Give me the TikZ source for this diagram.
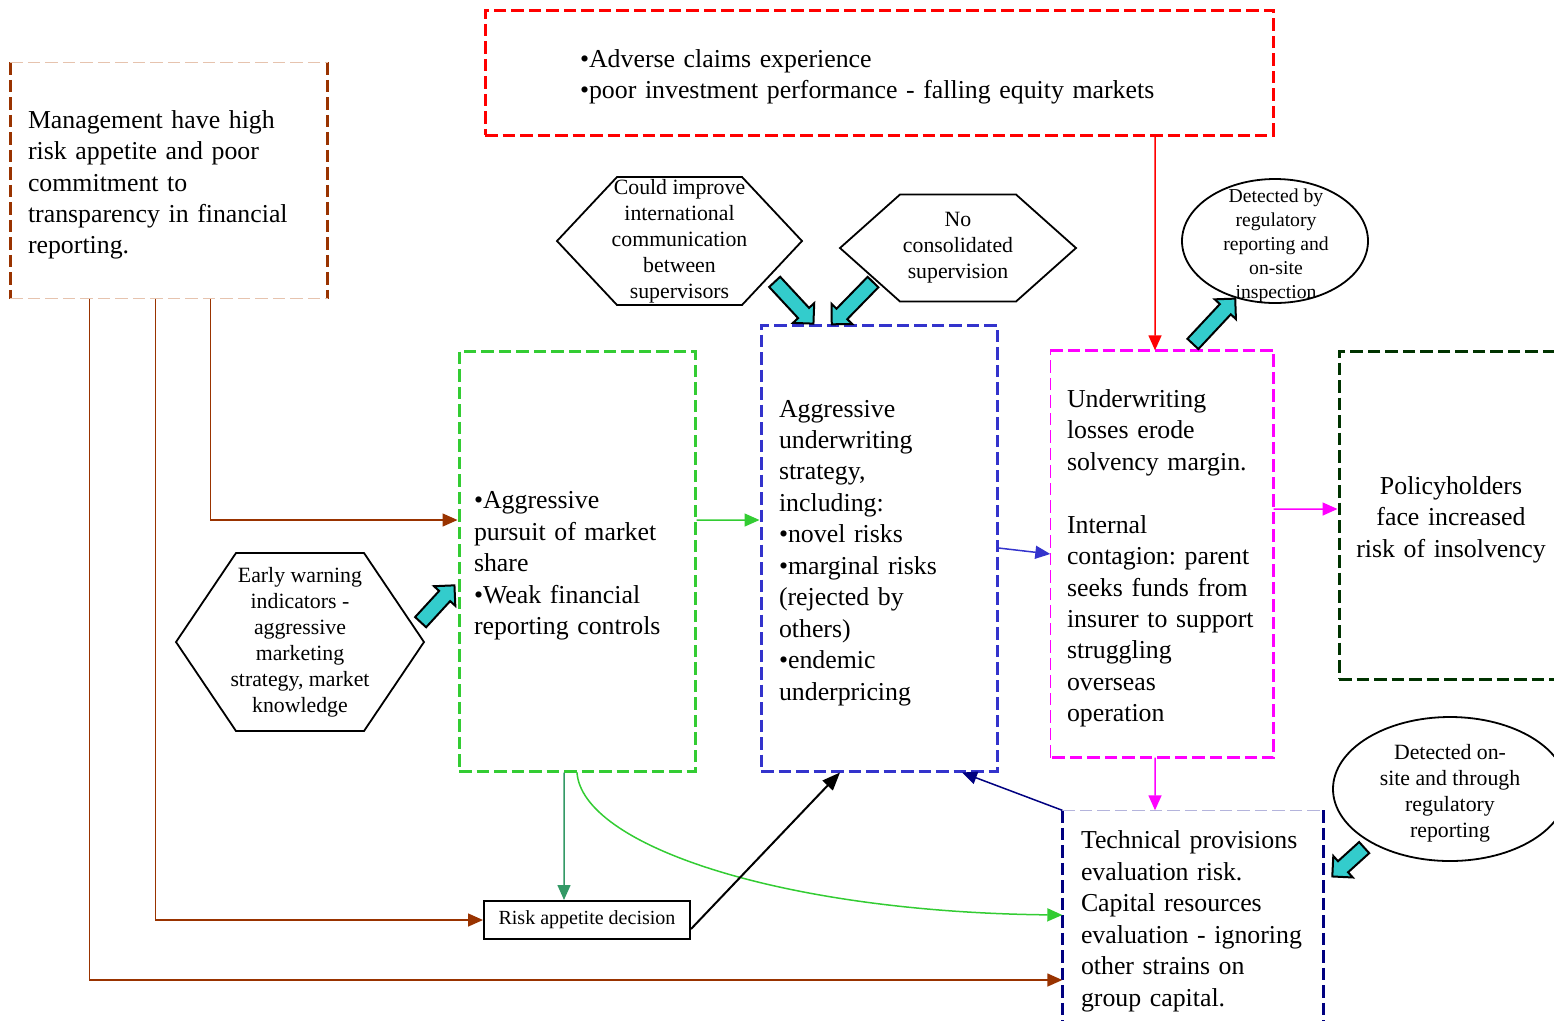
\documentclass[tikz,border=0pt]{standalone}
\usepackage{fontspec}
\setmainfont{Liberation Serif}
\usetikzlibrary{arrows.meta,shapes.geometric,shapes.arrows}

\definecolor{redline}{HTML}{FF0000}
\definecolor{brownline}{HTML}{993300}
\definecolor{lightbrown}{HTML}{E6C3AE}
\definecolor{greenline}{HTML}{33CC33}
\definecolor{blueline}{HTML}{3333CC}
\definecolor{pinkline}{HTML}{FF00FF}
\definecolor{darkgreen}{HTML}{003300}
\definecolor{navyline}{HTML}{000080}
\definecolor{lavender}{HTML}{B4B4DC}
\definecolor{seagreen}{HTML}{339966}
\definecolor{tealfill}{HTML}{33CCCC}

\frenchspacing
\hyphenpenalty=10000
\exhyphenpenalty=10000

\tikzset{
  mainfont/.style={font=\fontsize{7.35}{8.95}\selectfont},
  smallfont/.style={font=\fontsize{6.2}{7.4}\selectfont},
  tinyfont/.style={font=\fontsize{5.6}{6.8}\selectfont},
  dashbox/.style={draw=#1, line width=0.3mm, dash pattern=on 1.25mm off 0.5mm},
  thinside/.style={draw=#1, line width=0.12mm, dash pattern=on 1.25mm off 0.5mm},
  textbox/.style={rectangle, mainfont, align=left, inner ysep=0pt,
    execute at begin node={\rule{0pt}{7.6pt}}},
  hexnode/.style={smallfont, align=center, inner sep=0pt},
  hexline/.style={line width=0.18mm},
  oval/.style={ellipse, draw, line width=0.18mm, inner sep=0pt},
  link/.style={line width=0.15mm, -{Triangle[length=1.5mm,width=1.3mm]}},
  blockarrow/.style={single arrow, draw, fill=tealfill, line width=0.2mm,
    minimum height=#1, inner sep=0.65mm, single arrow head extend=0.7mm},
}

% hexagon round a centre: centre, half width, half height
\newcommand{\hexframe}[3]{%
  \draw[hexline] ([xshift=-#2]#1) -- ([xshift=-#2+6mm,yshift=#3]#1)
    -- ([xshift=#2-6mm,yshift=#3]#1) -- ([xshift=#2]#1)
    -- ([xshift=#2-6mm,yshift=-#3]#1) -- ([xshift=-#2+6mm,yshift=-#3]#1) -- cycle;}

\begin{document}
\begin{tikzpicture}[x=0.1mm, y=-0.1mm]
  \useasboundingbox (0,0) rectangle (1554,1020);
  \clip (0,0) rectangle (1554,1020);

  % Define boxes
  \node[textbox, dashbox=redline, minimum width=78.8mm, minimum height=12.5mm,
    text width=59.8mm, inner xsep=9.5mm] (Rd) at (879,72.5)
    {•Adverse claims experience\\•poor investment performance - falling equity markets};
  \node[textbox, minimum width=31.6mm, minimum height=23.5mm,
    text width=28.2mm, inner xsep=1.7mm] (M) at (169,180.5)
    {Management have high\\risk appetite and poor\\commitment to\\transparency in financial\\reporting.};
  \node[textbox, dashbox=greenline, minimum height=42mm,
    text width=20.6mm, inner xsep=1.5mm] (G) at (577,561)
    {•Aggressive\\pursuit of market\\share\\•Weak financial\\reporting controls};
  \node[textbox, dashbox=blueline, minimum height=44.6mm,
    text width=20mm, inner xsep=1.8mm] (B) at (879,548)
    {Aggressive\\underwriting\\strategy,\\including:\\•novel risks\\•marginal risks\\(rejected by\\others)\\•endemic\\underpricing};
  \node[textbox, minimum height=40.6mm,
    text width=19mm, inner xsep=1.6mm] (P) at (1162,554)
    {Underwriting\\losses erode\\solvency margin.\\[8.95pt]Internal\\contagion: parent\\seeks funds from\\insurer to support\\struggling\\overseas\\operation};
  \node[textbox, dashbox=darkgreen, minimum height=32.8mm, align=center,
    text width=21mm, inner xsep=0.7mm] (D) at (1451,515)
    {Policyholders\\face increased\\risk of insolvency};
  \node[textbox, minimum height=21.2mm,
    text width=22.4mm, inner xsep=1.8mm] (T) at (1193,917)
    {Technical provisions\\evaluation risk.\\Capital resources\\evaluation - ignoring\\other strains on\\group capital.};
  \node[draw, line width=0.2mm, minimum width=20.6mm, minimum height=3.8mm, inner sep=0pt,
    font=\fontsize{5.7}{6.8}\selectfont] (R) at (587,920) {Risk appetite decision};

  % Box sides of mixed weight
  \draw[dashbox=brownline] (M.north west) -- (M.south west);
  \draw[dashbox=brownline] (M.north east) -- (M.south east);
  \draw[thinside=lightbrown] (M.north west) -- (M.north east);
  \draw[thinside=lightbrown] (M.south west) -- (M.south east);
  \draw[dashbox=pinkline] (P.north west) -- (P.north east) -- (P.south east) -- (P.south west);
  \draw[thinside=pinkline] (P.south west) -- (P.north west);
  \draw[dashbox=navyline] (T.north west) -- (T.south west);
  \draw[dashbox=navyline] (T.north east) -- (T.south east);
  \draw[thinside=lavender] (T.north west) -- (T.north east);

  % Hexagons and ovals
  \node[hexnode] (H1) at (679.5,241) {Could improve\\international\\communication\\between\\supervisors};
  \hexframe{H1.center}{12.25mm}{6.4mm}
  \node[hexnode] (H2) at (958,248) {No\\consolidated\\supervision};
  \hexframe{H2.center}{11.8mm}{5.35mm}
  \node[hexnode] (H3) at (300,642) {Early warning\\indicators -\\aggressive\\marketing\\strategy, market\\knowledge};
  \hexframe{H3.center}{12.4mm}{8.9mm}
  \node[oval, minimum width=18.6mm, minimum height=12.4mm] (E1) at (1275,241) {};
  \node[tinyfont, align=center, inner sep=0pt] (E1t) at (1276,246)
    {Detected by\\regulatory\\reporting and\\on-site\\inspection};
  \node[oval, minimum width=23.4mm, minimum height=14.4mm] (E2) at (1450,789) {};
  \node[smallfont, align=center, inner sep=0pt] (E2t) at (1450,793)
    {Detected on-\\site and through\\regulatory\\reporting};

  % Draw connectors
  \draw[link, brownline] ([xshift=20mm]M.south west) |- ([yshift=4.1mm]G.west);
  \draw[link, brownline] ([xshift=14.5mm]M.south west) |- (R.west);
  \draw[link, brownline] ([xshift=7.9mm]M.south west) |- ([yshift=-6.3mm]T.west);
  \draw[link, greenline] ([yshift=4.1mm]G.east) -- ([yshift=2.8mm]B.west);
  \draw[link, blueline] (B.east) -- (P.west);
  \draw[link, pinkline] ([yshift=4.5mm]P.east) -- ([yshift=0.6mm]D.west);
  \draw[link, redline] ([xshift=27.6mm]Rd.south) -- ([xshift=-0.7mm]P.north);
  \draw[link, pinkline] ([xshift=-0.7mm]P.south) -- ([xshift=-3.8mm]T.north);
  \draw[link, seagreen] ([xshift=-1.3mm]G.south) -- ([xshift=-2.3mm]R.north);
  \draw[link, greenline] (G.south) .. controls (582,845) and (780,912) .. ([yshift=0.2mm]T.west);
  \draw[link, line width=0.2mm, -{Triangle[length=1.8mm,width=1.4mm]}]
    ([yshift=-0.9mm]R.east) -- ([xshift=-3.9mm]B.south);
  \draw[link, navyline] (T.north west) -- ([xshift=8.3mm]B.south);

  % Block arrows
  \coordinate (c1a) at (772,279);  \coordinate (c1b) at (811,321);
  \coordinate (c2a) at (876,279);  \coordinate (c2b) at (834,322);
  \coordinate (c3a) at (1190,347); \coordinate (c3b) at (1233,301);
  \coordinate (c4a) at (418,625);  \coordinate (c4b) at (452,588);
  \coordinate (c5a) at (1367,845); \coordinate (c5b) at (1335,874);
  \path (c1a) -- (c1b) node[midway, sloped, allow upside down, blockarrow=5.7mm] (A1) {};
  \path (c2a) -- (c2b) node[midway, sloped, allow upside down, blockarrow=5.9mm] (A2) {};
  \path (c3a) -- (c3b) node[midway, sloped, allow upside down, blockarrow=6.2mm] (A3) {};
  \path (c4a) -- (c4b) node[midway, sloped, allow upside down, blockarrow=5.0mm] (A4) {};
  \path (c5a) -- (c5b) node[midway, sloped, allow upside down, blockarrow=4.3mm] (A5) {};
\end{tikzpicture}
\end{document}
